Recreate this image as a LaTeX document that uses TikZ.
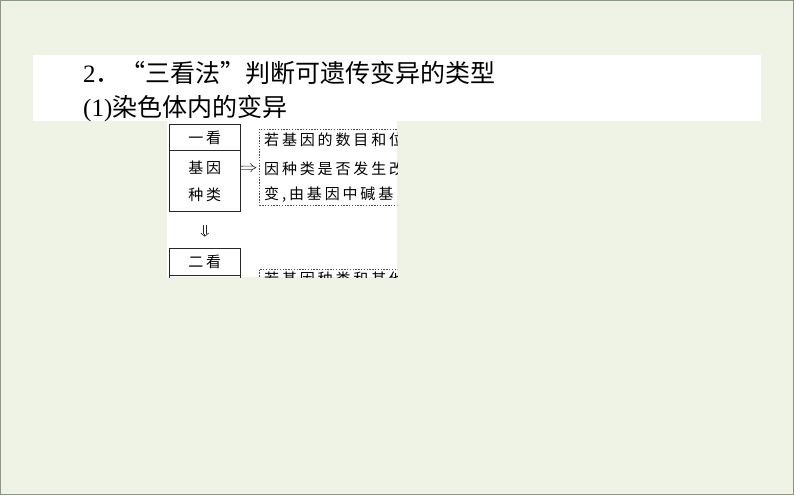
\documentclass[tikz,border=0pt]{standalone}
\usepackage{fontspec}
\setmainfont{Liberation Serif}
\newfontfamily\cjk{Noto Sans CJK SC}
\newfontfamily\cjksp[LetterSpace=19]{Noto Sans CJK SC}
\usetikzlibrary{arrows.meta}
\definecolor{bgcol}{RGB}{238,243,229}
\definecolor{bordercol}{RGB}{140,150,132}
\definecolor{boxline}{RGB}{40,40,40}
\definecolor{dashline}{RGB}{80,80,80}
\tikzset{
  title/.style={anchor=base west, inner sep=0pt, font=\fontsize{25}{25}\selectfont},
  solidbox/.style={draw=boxline, line width=0.8pt, inner sep=0pt},
  dashbox/.style={draw=dashline, line width=0.7pt, dash pattern=on 1.4pt off 1.4pt, inner sep=0pt},
  boxtext/.style={inner sep=0pt, font=\fontsize{15}{15}\selectfont\cjksp, text=black},
  linetext/.style={anchor=west, inner sep=0pt, font=\fontsize{15}{15}\selectfont\cjksp, text=black},
  implarrow/.style={draw=boxline, line width=0.6pt, double, double distance=2.6pt, -{Implies}},
  shaft/.style={draw=boxline, line width=0.6pt},
  chevron/.style={draw=boxline, line width=0.6pt, -{Straight Barb[length=3.2pt, width=8pt]}},
}
\begin{document}
\begin{tikzpicture}[x=1pt, y=-1pt]
\useasboundingbox (0,0) rectangle (794,495);
\fill[bgcol] (0,0) rectangle (794,495);
\draw[bordercol, line width=1pt] (0.5,0.5) rectangle (793.5,494.5);
% white text band
\fill[white] (33,55.5) rectangle (761,121);
\node[title] (t1) at (83,82) {2{\cjk ．\makebox[1em][r]{“}三看法\makebox[1em][l]{”}判断可遗传变异的类型}};
\node[title] (t2) at (83,116.5) {(1){\cjk 染色体内的变异}};
% diagram image region
\begin{scope}
\clip (166.7,121) rectangle (397.3,277);
\fill[white] (166.7,121) rectangle (397.3,277);
% box 1
\node[solidbox, minimum width=70.5pt, minimum height=87.7pt] (b1) at (204.75,167.85) {};
\draw[boxline, line width=0.8pt] (169.5,150) -- (240,150);
\node[boxtext] (b1a) at (204.75,137.5) {一看};
\node[boxtext] (b1b) at (204.75,168) {基因};
\node[boxtext] (b1c) at (204.75,195) {种类};
% box 2
\node[solidbox, minimum width=70.5pt, minimum height=60pt] (b2) at (204.75,278.3) {};
\draw[boxline, line width=0.8pt] (169.5,275) -- (240,275);
\node[boxtext] (b2a) at (204.75,261.5) {二看};
% dashed boxes
\node[dashbox, minimum width=160.7pt, minimum height=76.4pt] (d1) at (339.65,167.5) {};
\node[linetext] (d1a) at (264,140) {若基因的数目和位};
\node[linetext] (d1b) at (264,168.3) {因种类是否发生改};
\node[linetext] (d1c) at (264,195) {变,由基因中碱基};
\node[dashbox, minimum width=160.7pt, minimum height=70pt] (d2) at (339.65,304) {};
\node[linetext] (d2a) at (264,279) {若基因种类和其他};
% arrows
\draw[implarrow, shorten <=0.6pt, shorten >=2.6pt] (b1.east) -- (d1.west);
\draw[shaft, shorten <=13.3pt, shorten >=13.5pt] ([xshift=-1.7pt]b1.south) -- ([xshift=-1.7pt]b2.north);
\draw[shaft, shorten <=13.3pt, shorten >=13.5pt] ([xshift=1.7pt]b1.south) -- ([xshift=1.7pt]b2.north);
\draw[chevron, shorten <=22pt, shorten >=11.3pt] (b1.south) -- (b2.north);
\end{scope}
\end{tikzpicture}
\end{document}
